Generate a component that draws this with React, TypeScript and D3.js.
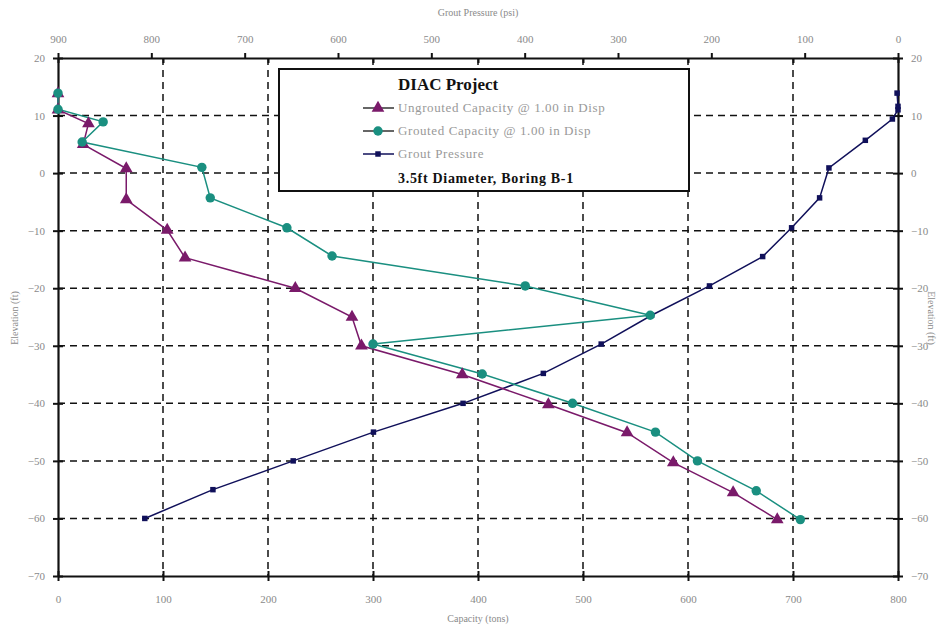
import React, { useRef, useEffect } from "react"
import * as d3 from "d3"

// Ungrouted capacity (tons) vs elevation (ft)
const ungroutedElev = [13.8, 11, 8.6, 5, 0.8, -4.6, -9.9, -14.7, -20, -25, -30, -35, -40.2, -45.1, -50.3, -55.5, -60.2]
const ungroutedCap = [0, 0, 29, 24, 65, 65, 104, 121, 226, 280, 289, 385, 467, 542, 586, 643, 685]

// Grouted capacity (tons) vs elevation (ft)
const groutedElev = [13.9, 11.1, 8.9, 5.4, 1.0, -4.3, -9.5, -14.4, -19.6, -24.7, -29.7, -34.9, -40, -45, -50, -55.2, -60.2]
const groutedCap = [0, 0, 43, 23, 137, 145, 218, 261, 445, 564, 300, 404, 490, 569, 609, 665, 707]

// Grout pressure (psi) vs elevation (ft)
const pressureElev = [13.9, 11.6, 11, 9.4, 5.7, 0.9, -4.3, -9.5, -14.5, -19.6, -24.7, -29.7, -34.8, -40, -45, -50, -55, -60]
const pressurePsi = [1, 0, 0, 6, 35, 74, 84, 114, 145, 202, 264, 318, 380, 466, 562, 648, 734, 807]

const capTicks = [0, 100, 200, 300, 400, 500, 600, 700, 800]
const psiTicks = [900, 800, 700, 600, 500, 400, 300, 200, 100, 0]
const elevTicks = [20, 10, 0, -10, -20, -30, -40, -50, -60, -70]

const legendItems = [
  { label: "Ungrouted Capacity @ 1.00 in Disp", key: "ung" },
  { label: "Grouted Capacity @ 1.00 in Disp", key: "gro" },
  { label: "Grout Pressure", key: "psi" },
]

const PURPLE = "#7a1a6a"
const TEAL = "#1a8f80"
const NAVY = "#10105a"
const LABEL = "#8a8a8a"
const FONT = "'Liberation Serif', 'Times New Roman', serif"

const App: React.FC = () => {
  const svgRef = useRef<SVGSVGElement | null>(null)
  const width = 945
  const height = 632

  useEffect(() => {
    const svg = d3.select(svgRef.current)
    svg.selectAll("*").remove()

    const left = 58, right = 898, top = 58, bottom = 576

    const x = d3.scaleLinear().domain([0, 800]).range([left, right])
    const xp = d3.scaleLinear().domain([900, 0]).range([left, right])
    const y = d3.scaleLinear().domain([20, -70]).range([top, bottom])

    svg.append("rect").attr("width", width).attr("height", height).attr("fill", "white")

    // GRID
    const grid = svg.append("g").attr("stroke", "#111").attr("stroke-width", 1.5).attr("stroke-dasharray", "7,5")
    capTicks.filter(v => v > 0 && v < 800).forEach(v => {
      grid.append("line").attr("x1", x(v)).attr("x2", x(v)).attr("y1", top).attr("y2", bottom)
    })
    elevTicks.filter(v => v < 20 && v > -70).forEach(v => {
      grid.append("line").attr("x1", left).attr("x2", right).attr("y1", y(v)).attr("y2", y(v))
    })

    // AXES
    const axisStyle = (g: d3.Selection<SVGGElement, unknown, null, undefined>) => {
      g.select(".domain").attr("stroke", "#111").attr("stroke-width", 2.2)
      g.selectAll(".tick line").attr("stroke", "#111").attr("stroke-width", 2)
      g.selectAll(".tick text").attr("fill", LABEL).attr("font-family", FONT).attr("font-size", 11)
    }

    svg.append("g")
      .attr("transform", `translate(0,${bottom})`)
      .call(d3.axisBottom(x).tickValues(capTicks).tickSizeInner(5).tickSizeOuter(0).tickPadding(14))
      .call(g => g.selectAll(".tick line").attr("y1", -5))
      .call(axisStyle)

    // capacity ticks mirrored on top edge (inside)
    svg.append("g")
      .attr("transform", `translate(0,${top})`)
      .call(d3.axisBottom(x).tickValues(capTicks).tickSize(5).tickFormat(() => ""))
      .call(axisStyle)
      .call(g => g.select(".domain").remove())

    svg.append("g")
      .attr("transform", `translate(0,${top})`)
      .call(d3.axisTop(xp).tickValues(psiTicks).tickSizeInner(5).tickSizeOuter(0).tickPadding(10))
      .call(axisStyle)

    svg.append("g")
      .attr("transform", `translate(${left},0)`)
      .call(d3.axisLeft(y).tickValues(elevTicks).tickSizeInner(5).tickSizeOuter(0).tickPadding(8))
      .call(g => g.selectAll(".tick line").attr("x1", 5))
      .call(axisStyle)

    svg.append("g")
      .attr("transform", `translate(${right},0)`)
      .call(d3.axisRight(y).tickValues(elevTicks).tickSizeInner(5).tickSizeOuter(0).tickPadding(8))
      .call(g => g.selectAll(".tick line").attr("x1", -5))
      .call(axisStyle)

    // AXIS TITLES
    const title = (tx: number, ty: number, text: string, rot = 0) =>
      svg.append("text")
        .attr("transform", `translate(${tx},${ty}) rotate(${rot})`)
        .attr("text-anchor", "middle")
        .attr("font-family", FONT).attr("font-size", 10).attr("fill", LABEL)
        .text(text)
    title(478, 16, "Grout Pressure (psi)")
    title(478, 622, "Capacity (tons)")
    title(18, 318, "Elevation (ft)", -90)
    title(928, 318, "Elevation (ft)", 90)

    // SERIES
    const plot = svg.append("g")

    const ungData = ungroutedCap.map((c, i) => [x(c), y(ungroutedElev[i])] as [number, number])
    const groData = groutedCap.map((c, i) => [x(c), y(groutedElev[i])] as [number, number])
    const psiData = pressurePsi.map((p, i) => [xp(p), y(pressureElev[i])] as [number, number])

    const line = d3.line()
    plot.append("path").attr("d", line(psiData)).attr("fill", "none").attr("stroke", NAVY).attr("stroke-width", 1.5)
    plot.append("path").attr("d", line(ungData)).attr("fill", "none").attr("stroke", PURPLE).attr("stroke-width", 1.5)
    plot.append("path").attr("d", line(groData)).attr("fill", "none").attr("stroke", TEAL).attr("stroke-width", 1.5)

    const tri = d3.symbol().type(d3.symbolTriangle).size(70)
    const circ = d3.symbol().type(d3.symbolCircle).size(70)
    const sq = d3.symbol().type(d3.symbolSquare).size(30)

    plot.selectAll(".psi").data(psiData).enter().append("path")
      .attr("d", sq()).attr("transform", d => `translate(${d[0]},${d[1]})`).attr("fill", NAVY)
    plot.selectAll(".ung").data(ungData).enter().append("path")
      .attr("d", tri()).attr("transform", d => `translate(${d[0]},${d[1]})`).attr("fill", PURPLE)
    plot.selectAll(".gro").data(groData).enter().append("path")
      .attr("d", circ()).attr("transform", d => `translate(${d[0]},${d[1]})`).attr("fill", TEAL)

    // LEGEND
    const lg = svg.append("g")
    lg.append("rect").attr("x", 279).attr("y", 69).attr("width", 410).attr("height", 122)
      .attr("fill", "white").attr("stroke", "#111").attr("stroke-width", 2)
    lg.append("text").attr("x", 398).attr("y", 90)
      .attr("font-family", FONT).attr("font-weight", "bold").attr("font-size", 17).attr("fill", "#111")
      .text("DIAC Project")

    const rowY = d3.scalePoint<string>().domain(legendItems.map(d => d.key)).range([108, 154])
    legendItems.forEach(item => {
      const ry = rowY(item.key) as number
      const color = item.key === "ung" ? PURPLE : item.key === "gro" ? TEAL : NAVY
      lg.append("line").attr("x1", 363).attr("x2", 394).attr("y1", ry).attr("y2", ry)
        .attr("stroke", item.key === "psi" ? NAVY : "#333").attr("stroke-width", 1.5)
      const sym = item.key === "ung" ? tri : item.key === "gro" ? circ : sq
      lg.append("path").attr("d", sym()).attr("transform", `translate(378,${ry})`).attr("fill", color)
      lg.append("text").attr("x", 398).attr("y", ry + 4)
        .attr("font-family", FONT).attr("font-size", 13).attr("letter-spacing", 0.6).attr("fill", "#999")
        .text(item.label)
    })

    lg.append("text").attr("x", 398).attr("y", 183)
      .attr("font-family", FONT).attr("font-weight", "bold").attr("font-size", 14).attr("letter-spacing", 0.7).attr("fill", "#111")
      .text("3.5ft Diameter, Boring B-1")
  }, [])

  return (
    <svg ref={svgRef} width={width} height={height}
      style={{ position: "absolute", left: 0, top: 0, display: "block" }} />
  )
}

export default App
